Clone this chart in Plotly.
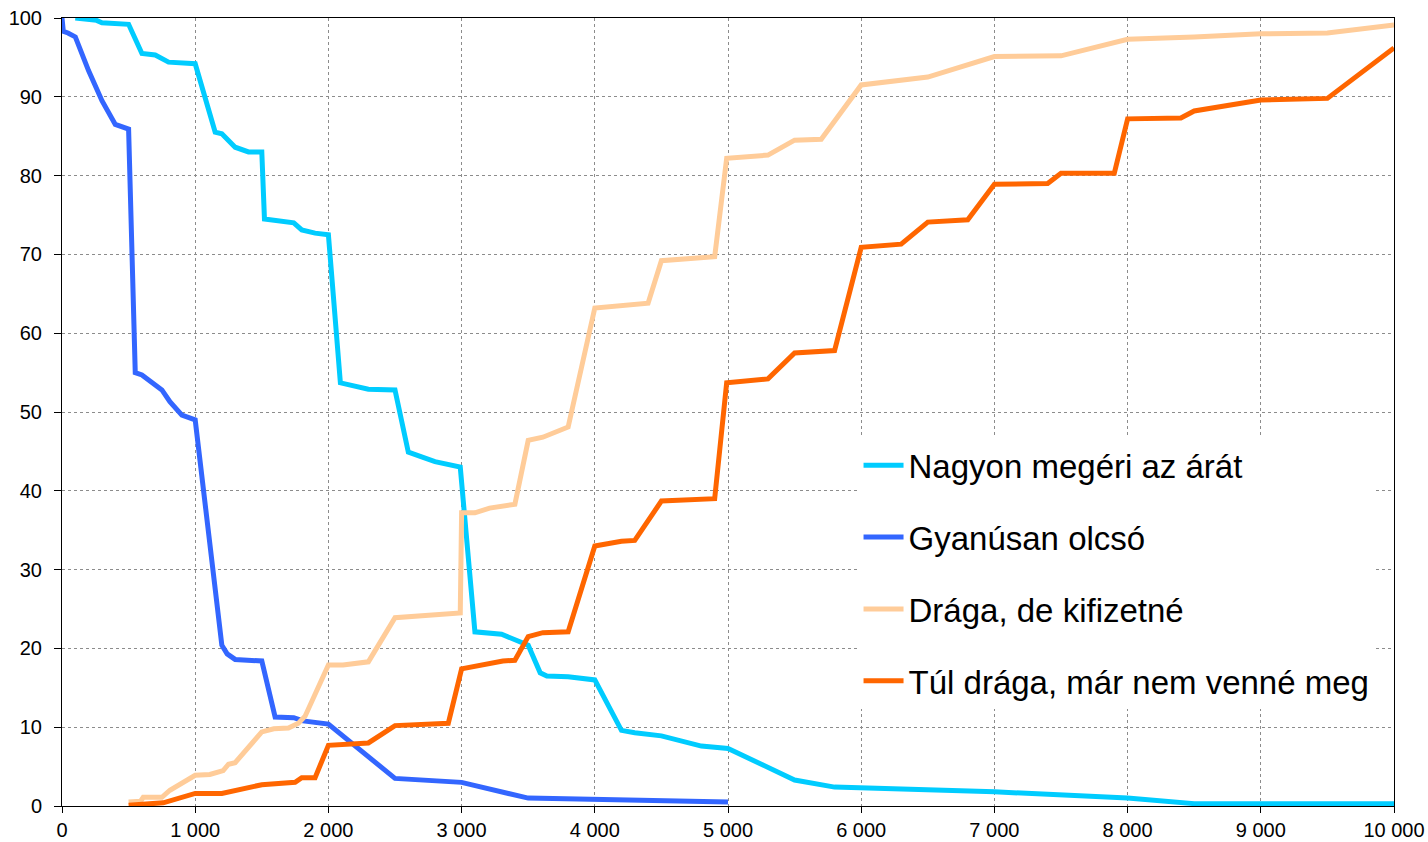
import plotly.graph_objects as go

# Price points (Ft) and share of respondents (%) for each answer
nagyon_x = [100, 260, 300, 500, 600, 700, 800, 1000, 1150, 1200, 1300, 1400, 1500, 1520,
            1740, 1800, 1900, 2000, 2090, 2175, 2300, 2500, 2600, 2700, 2800, 2990, 3100,
            3300, 3420, 3500, 3590, 3640, 3800, 4000, 4200, 4300, 4500, 4700, 4800, 5000,
            5500, 5800, 6000, 6500, 7000, 8000, 8500, 9000, 10000]
nagyon_y = [100, 99.7, 99.4, 99.2, 95.5, 95.3, 94.4, 94.2, 85.5, 85.3, 83.6, 83.0, 83.0, 74.5,
            74.0, 73.1, 72.7, 72.5, 53.7, 53.4, 52.9, 52.8, 44.9, 44.3, 43.7, 43.0, 22.1,
            21.8, 21.0, 20.4, 16.9, 16.5, 16.4, 16.0, 9.6, 9.3, 8.9, 8.0, 7.6, 7.3,
            3.3, 2.4, 2.3, 1.9, 1.8, 1.0, 0.3, 0.3, 0.3]

olcso_x = [0, 10, 45, 100, 200, 300, 400, 500, 550, 600, 750, 810, 900, 1000, 1200, 1240,
           1300, 1500, 1600, 1740, 1810, 2000, 2500, 3000, 3500, 4000, 5000]
olcso_y = [100, 98.3, 98.1, 97.6, 93.3, 89.5, 86.5, 85.9, 55.0, 54.7, 52.8, 51.3, 49.6, 49.0,
           20.4, 19.3, 18.6, 18.4, 11.3, 11.2, 10.8, 10.4, 3.5, 3.0, 1.0, 0.8, 0.5]

draga_x = [500, 590, 610, 750, 810, 1000, 1110, 1210, 1250, 1300, 1500, 1590, 1700, 1775,
           1825, 2000, 2110, 2300, 2500, 2990, 3000, 3100, 3210, 3400, 3500, 3610, 3800,
           4000, 4400, 4500, 4900, 4990, 5300, 5500, 5700, 6000, 6500, 7000, 7500, 8000,
           8500, 9000, 9500, 10000]
draga_y = [0.5, 0.6, 1.1, 1.1, 2.0, 3.9, 4.0, 4.5, 5.3, 5.5, 9.4, 9.8, 9.9, 10.5,
           11.4, 17.9, 17.9, 18.3, 23.9, 24.5, 37.2, 37.2, 37.8, 38.3, 46.4, 46.8, 48.1,
           63.2, 63.8, 69.2, 69.7, 82.2, 82.6, 84.5, 84.6, 91.5, 92.5, 95.1, 95.2, 97.3,
           97.6, 98.0, 98.1, 99.1]

tul_x = [500, 760, 1000, 1200, 1500, 1640, 1750, 1800, 1900, 2000, 2300, 2500, 2900, 3000,
         3200, 3310, 3400, 3500, 3610, 3800, 4000, 4200, 4300, 4500, 4900, 4990, 5300, 5500,
         5800, 6000, 6300, 6500, 6800, 7000, 7400, 7500, 7900, 8000, 8400, 8500, 9000, 9500,
         10000]
tul_y = [0.1, 0.4, 1.6, 1.6, 2.7, 2.8, 3.0, 3.6, 3.6, 7.7, 8.0, 10.2, 10.5, 17.4,
         18.0, 18.4, 18.5, 21.5, 22.0, 22.1, 33.0, 33.6, 33.7, 38.7, 39.0, 53.7, 54.2, 57.5,
         57.8, 70.9, 71.3, 74.1, 74.4, 78.9, 79.0, 80.3, 80.3, 87.2, 87.3, 88.2, 89.6, 89.8,
         96.2]

x_ticks = list(range(0, 10001, 1000))
x_tick_labels = ['0', '1 000', '2 000', '3 000', '4 000', '5 000',
                 '6 000', '7 000', '8 000', '9 000', '10 000']

series = [
    ('Nagyon megéri az árát', nagyon_x, nagyon_y, '#00CCFF'),
    ('Gyanúsan olcsó', olcso_x, olcso_y, '#3366FF'),
    ('Drága, de kifizetné', draga_x, draga_y, '#FFCC99'),
    ('Túl drága, már nem venné meg', tul_x, tul_y, '#FF6600'),
]

fig = go.Figure()
for name, xs, ys, color in series:
    fig.add_trace(go.Scatter(
        x=xs, y=ys, name=name, mode='lines', legendgroup=name,
        line=dict(color=color, width=5)
    ))

fig.update_layout(
    width=1428, height=842,
    margin=dict(l=62, r=34, t=18, b=36),
    paper_bgcolor='white', plot_bgcolor='white',
    font=dict(family='Liberation Sans, Arial, sans-serif', color='black', size=20),
    showlegend=True,
    legend=dict(
        x=0.598, y=0.468, xanchor='left', yanchor='top',
        bgcolor='white', borderwidth=0,
        font=dict(size=33), tracegroupgap=26,
        itemwidth=40
    ),
    xaxis=dict(
        range=[0, 10000], tickvals=x_ticks, ticktext=x_tick_labels,
        showgrid=True, gridcolor='#8c8c8c', griddash='dot', gridwidth=1,
        showline=True, linecolor='black', linewidth=1, mirror=True,
        ticks='outside', ticklen=6, tickcolor='black', zeroline=False,
        automargin=False, ticklabeloverflow='allow'
    ),
    yaxis=dict(
        range=[0, 100], dtick=10,
        showgrid=True, gridcolor='#8c8c8c', griddash='dot', gridwidth=1,
        showline=True, linecolor='black', linewidth=1, mirror=True,
        ticks='outside', ticklen=7, tickcolor='black', zeroline=False,
        automargin=False, ticklabeloverflow='allow', ticklabelstandoff=8
    ),
)

# drop the default 8px body margin so the figure fills the window exactly
fig.write_html('out.html', config={'displayModeBar': False},
               post_script="document.body.style.margin='0';")
